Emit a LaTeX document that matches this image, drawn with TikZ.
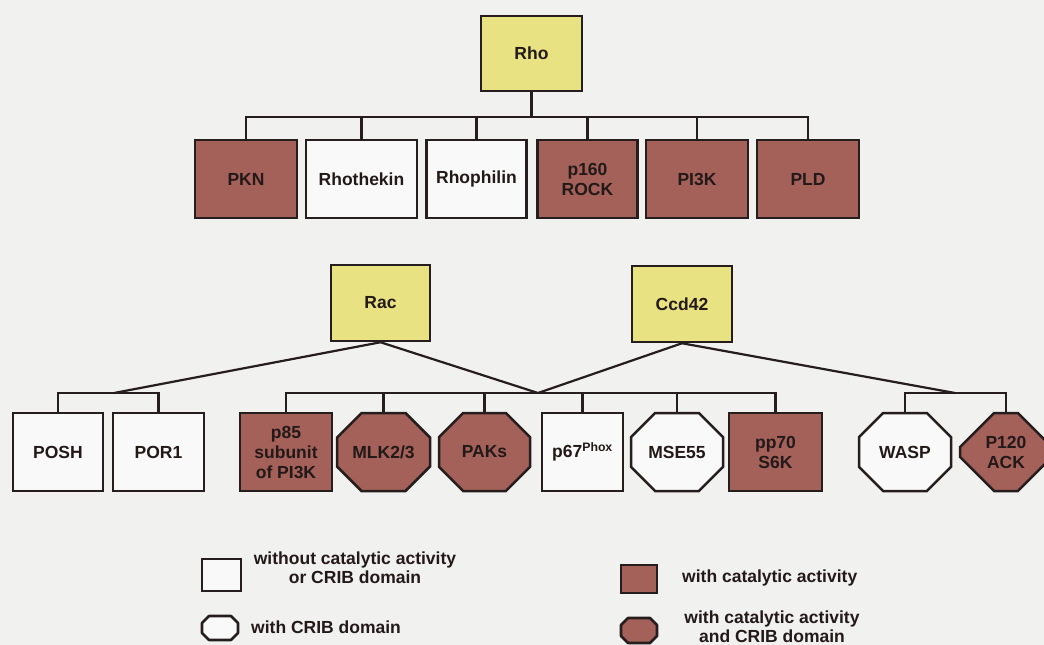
\documentclass[tikz,border=0pt]{standalone}
\usepackage{fontspec}
\setmainfont{Liberation Sans}
\usetikzlibrary{shapes.misc}
\definecolor{bgc}{RGB}{241,241,240}
\definecolor{boxw}{RGB}{249,249,249}
\definecolor{yel}{RGB}{233,226,130}
\definecolor{brn}{RGB}{163,97,89}
\definecolor{edge}{RGB}{38,30,30}
\definecolor{ink}{RGB}{35,25,25}
\tikzset{
  lbl/.style={font=\fontsize{17.5}{20}\selectfont\bfseries, text=ink, align=center, inner sep=0pt},
  sbox/.style={lbl, rectangle, draw=edge, line width=2.5pt, minimum height=78pt},
  whitebox/.style={sbox, fill=boxw},
  catbox/.style={sbox, fill=brn},
  gtp/.style={sbox, fill=yel, minimum width=100pt, minimum height=76pt},
  oct/.style={lbl, chamfered rectangle, chamfered rectangle sep=18pt, draw=edge, line width=2.5pt, minimum width=92pt, minimum height=78pt},
  whiteoct/.style={oct, fill=boxw},
  catoct/.style={oct, fill=brn},
  conn/.style={draw=edge, line width=2.2pt},
  legoct/.style={draw=edge, line width=2.6pt, line join=round},
  legtext/.style={font=\fontsize{17.5}{19}\selectfont\bfseries, text=ink, inner sep=0pt}
}
\begin{document}
\begin{tikzpicture}[x=1pt,y=-1pt]
\clip (0,0) rectangle (1044,645);
\fill[bgc] (0,0) rectangle (1044,645);
% Rho
\node[gtp, minimum width=101pt, minimum height=75pt] (rho) at (531.5,53.5) {Rho};
\node[catbox, minimum width=102pt] (pkn) at (246,179) {PKN};
\node[whitebox, minimum width=111pt] (rhothekin) at (361.5,179) {Rhothekin};
\node[whitebox, minimum width=100pt] (rhophilin) at (476.5,179) {Rhophilin};
\node[catbox, minimum width=100pt] (rock) at (587.5,179) {p160\\ROCK};
\node[catbox, minimum width=102pt] (pi3k) at (697,179) {PI3K};
\node[catbox, minimum width=102pt] (pld) at (808,179) {PLD};
\coordinate (rhobus) at (531.5,117);
\draw[conn] (rho.south) -- (rhobus);
\draw[conn] (pkn.north) -- (pkn.north |- rhobus) -- (pld.north |- rhobus) -- (pld.north);
\foreach \n in {rhothekin,rhophilin,rock,pi3k}
  \draw[conn] (\n.north) -- (\n.north |- rhobus);
% Rac, Cdc42
\node[gtp, minimum width=99pt] (rac) at (380.5,303) {Rac};
\node[gtp, minimum width=100pt] (ccd) at (682,304) {Ccd42};
% bottom row
\node[whitebox, minimum width=90pt] (posh) at (58,452) {POSH};
\node[whitebox, minimum width=91pt] (por) at (158.5,452) {POR1};
\node[catbox, minimum width=92pt] (p85) at (286,452) {p85\\subunit\\of PI3K};
\node[catoct, minimum width=93pt] (mlk) at (383.5,452) {MLK2/3};
\node[catoct, minimum width=91pt] (paks) at (484.5,452) {PAKs};
\node[whitebox, minimum width=81pt] (p67) at (582.5,452) {p67\textsuperscript{Phox}};
\node[whiteoct] (mse) at (677,452) {MSE55};
\node[catbox, minimum width=93pt] (pp70) at (775.5,452) {pp70\\S6K};
\node[whiteoct] (wasp) at (905,452) {WASP};
\node[catoct] (ack) at (1006,452) {P120\\ACK};
\coordinate (racL) at (114,393);
\coordinate (mid) at (538,393);
\coordinate (ccdR) at (955,393);
\draw[conn] (posh.north) -- (posh.north |- racL) -- (por.north |- racL) -- (por.north);
\draw[conn] (p85.north) -- (p85.north |- mid) -- (pp70.north |- mid) -- (pp70.north);
\foreach \n in {mlk,paks,p67,mse}
  \draw[conn] (\n.north) -- (\n.north |- mid);
\draw[conn] (wasp.north) -- (wasp.north |- ccdR) -- (ack.north |- ccdR) -- (ack.north);
\draw[conn] (rac.south) -- (racL);
\draw[conn] (rac.south) -- (mid);
\draw[conn] (ccd.south) -- (mid);
\draw[conn] (ccd.south) -- (ccdR);
% legend
\node[sbox, fill=boxw, minimum width=39pt, minimum height=32pt, line width=2pt] (lg1) at (221.5,575) {};
\node[legtext, align=center] (lt1) at (355,568) {without catalytic activity\\or CRIB domain};
\draw[legoct, fill=boxw] (202,623) -- (209,616) -- (231,616) -- (238,623) -- (238,633) -- (231,640) -- (209,640) -- (202,633) -- cycle;
\node[legtext, anchor=west] (lt2) at (251,627) {with CRIB domain};
\node[sbox, fill=brn, minimum width=36pt, minimum height=28pt, line width=2.4pt] (lg3) at (639,579) {};
\node[legtext, anchor=west] (lt3) at (682,578) {with catalytic activity};
\draw[legoct, fill=brn] (621,625) -- (628,618) -- (650,618) -- (657,625) -- (657,636) -- (650,643) -- (628,643) -- (621,636) -- cycle;
\node[legtext, align=center] (lt4) at (772,627) {with catalytic activity\\and CRIB domain};
\end{tikzpicture}
\end{document}
